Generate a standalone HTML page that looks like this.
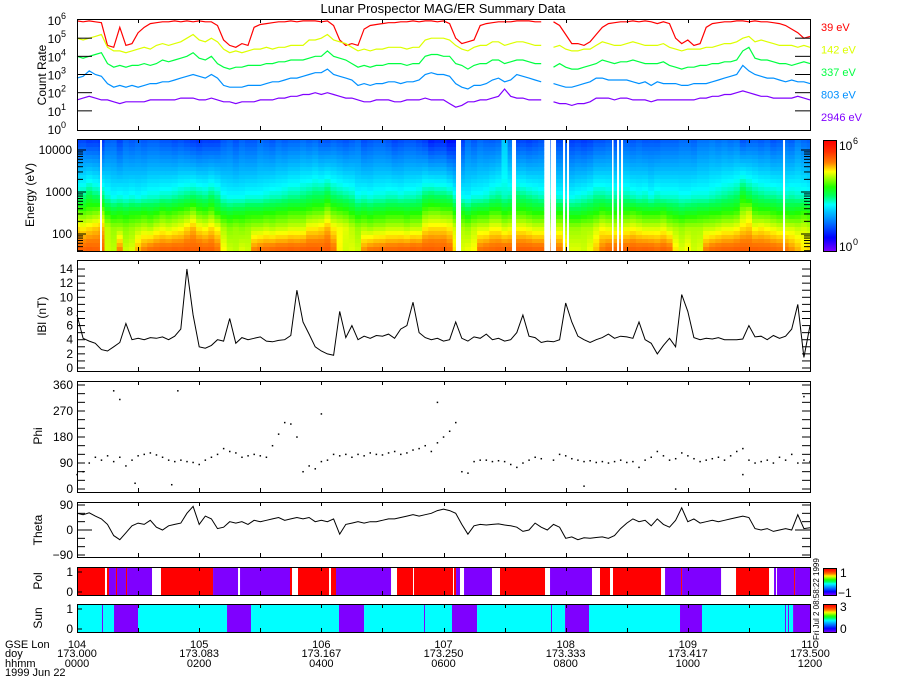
<!DOCTYPE html>
<html><head><meta charset="utf-8"><title>Lunar Prospector MAG/ER Summary Data</title>
<style>
html,body{margin:0;padding:0;background:#fff;}
svg{display:block;font-family:"Liberation Sans",sans-serif;}
</style></head>
<body>
<svg id="chart" xmlns="http://www.w3.org/2000/svg" width="900" height="700" viewBox="0 0 900 700">
<rect x="0" y="0" width="900" height="700" fill="#fff"/>
<text x="443" y="13" font-size="13" text-anchor="middle" fill="#000">Lunar Prospector MAG/ER Summary Data</text>
<g id="g"></g>
</svg>
<script>
// ---------- data (hours after 00:00, sampled every 0.1 h) ----------
const sampleStep = 0.1;
const energyLabels = ["39 eV","142 eV","337 eV","803 eV","2946 eV"];
const energyLogE = [1.59, 2.15, 2.53, 2.90, 3.47];
const rate39 = [5.95,5.9,5.95,5.9,5.85, 4.6,4.5,5.6,4.6,4.7, 5.3,5.6,5.8,5.85,5.9,5.9,5.95,5.9,5.95,5.9, 5.95,5.9,5.9,5.7,4.9,4.6,4.5,4.7,4.6,5.6, 5.75,5.8,5.85,5.9,5.9,5.95,5.9,5.95,5.95,5.95, 5.9,5.95,5.7,4.9,4.6,4.7,4.6,5.5,5.7,5.75, 5.8,5.85,5.85,5.9,5.9,5.95,5.9,5.95,5.95,5.9, 5.95,5.8,5.0,4.7,4.8,4.9,5.7,5.8,5.85,5.9, 5.9,5.9,5.95,5.95,5.95,5.9,5.9,null,5.9,5.7, 5.2,4.7,4.7,4.6,4.8,5.2,5.6,5.8,5.85,5.9, 5.9,5.95,5.9,5.95,5.9,5.8,5.9,5.8,5.0,4.7, 4.9,4.6,4.7,5.6,5.8,5.85,5.9,5.9,5.95,5.95, 5.9,5.95,5.9,5.9,5.85,5.8,5.7,5.5,5.3,5.0, 5.1];
const rate142 = [5.0,4.9,5.0,5.1,5.2, 4.5,4.3,4.3,4.2,4.3, 4.4,4.5,4.4,4.6,4.7,4.6,4.7,4.8,5.0,5.2, 4.9,4.8,5.0,4.8,4.4,4.2,4.3,4.2,4.3,4.4, 4.4,4.5,4.4,4.5,4.5,4.6,4.6,4.6,4.9,4.9, 5.0,5.2,4.9,4.8,4.7,4.5,4.3,4.4,4.3,4.4, 4.4,4.5,4.5,4.5,4.4,4.5,4.5,4.9,5.0,5.0, 5.0,4.9,4.6,4.4,4.3,4.5,4.6,4.6,4.8,4.8, 4.6,4.7,4.8,4.8,4.7,4.6,4.6,null,4.5,4.6, 4.4,4.3,4.3,4.4,4.4,4.6,4.8,4.7,4.6,4.6, 4.7,4.8,4.7,4.6,4.6,4.6,4.7,4.5,4.4,4.3, 4.4,4.4,4.4,4.5,4.5,4.6,4.7,4.7,4.8,5.0, 5.1,4.8,4.9,4.8,4.7,4.6,4.6,4.6,4.5,4.6, 4.5];
const rate337 = [4.0,3.9,4.0,4.1,4.2, 3.6,3.4,3.5,3.4,3.5, 3.5,3.6,3.5,3.6,3.8,3.7,3.8,3.9,4.0,4.2, 3.9,3.8,4.0,3.6,3.4,3.3,3.4,3.4,3.5,3.5, 3.5,3.6,3.6,3.7,3.7,3.8,3.8,3.8,3.9,4.0, 4.0,4.3,4.0,3.9,3.8,3.6,3.4,3.5,3.4,3.5, 3.5,3.6,3.6,3.6,3.5,3.6,3.6,4.0,4.1,4.1, 4.0,4.0,3.6,3.5,3.3,3.5,3.6,3.6,3.8,3.8, 3.6,3.7,3.8,3.8,3.7,3.6,3.6,null,3.4,3.6, 3.4,3.3,3.3,3.4,3.5,3.6,3.8,3.7,3.6,3.7, 3.7,3.8,3.7,3.6,3.6,3.6,3.7,3.5,3.4,3.3, 3.4,3.4,3.5,3.5,3.6,3.6,3.7,3.7,3.8,4.3, 4.5,3.9,3.8,3.8,3.7,3.6,3.6,3.5,3.6,3.7, 3.6];
const rate803 = [2.8,2.9,3.2,3.0,2.9, 2.5,2.3,2.4,2.3,2.4, 2.3,2.4,2.5,2.5,2.6,2.6,2.7,2.8,2.9,3.0, 2.9,2.8,3.0,2.8,2.4,2.3,2.3,2.3,2.4,2.4, 2.4,2.5,2.6,2.6,2.7,2.8,2.8,2.9,3.0,3.1, 3.1,3.3,3.0,2.9,2.8,2.7,2.4,2.5,2.4,2.5, 2.5,2.6,2.6,2.5,2.6,2.6,2.7,3.0,3.1,3.0, 3.0,2.9,2.5,2.3,2.2,2.4,2.4,2.5,2.7,2.8, 2.6,2.7,3.0,2.9,2.8,2.7,2.6,null,2.5,2.4, 2.3,2.3,2.4,2.5,2.6,2.8,2.8,2.7,2.7,2.7, 2.7,2.6,2.5,2.6,2.4,2.6,2.5,2.5,2.5,2.4, 2.4,2.5,2.5,2.5,2.6,2.7,2.8,2.9,3.0,3.5, 3.2,3.0,2.9,2.8,2.8,2.7,2.6,2.7,2.6,2.6, 2.5];
const rate2946 = [1.6,1.7,1.8,1.7,1.6, 1.6,1.5,1.4,1.5,1.5, 1.5,1.5,1.6,1.6,1.6,1.6,1.6,1.7,1.7,1.7, 1.6,1.6,1.7,1.6,1.5,1.5,1.4,1.5,1.5,1.5, 1.6,1.6,1.6,1.7,1.7,1.8,1.8,1.9,1.9,2.0, 1.9,2.0,1.9,1.8,1.7,1.7,1.6,1.5,1.5,1.6, 1.6,1.6,1.5,1.5,1.6,1.6,1.6,1.7,1.6,1.6, 1.6,1.4,1.2,1.3,1.5,1.5,1.6,1.6,1.7,1.8, 2.2,1.8,1.7,1.7,1.6,1.6,1.6,null,1.5,1.4, 1.4,1.3,1.4,1.4,1.5,1.7,1.7,1.7,1.6,1.7, 1.7,1.6,1.6,1.6,1.5,1.6,1.6,1.6,1.6,1.6, 1.6,1.6,1.7,1.7,1.8,1.8,1.9,1.9,2.0,2.1, 2.0,1.9,1.8,1.8,1.7,1.7,1.7,1.7,1.8,1.7, 1.6];
const specGapStart = [0.377, 6.205, 7.122, 7.76, 7.957, 8.022, 8.759, 8.841, 8.906, 11.559];
const specGapEnd   = [0.409, 6.287, 7.187, 7.842, 7.99, 8.055, 8.775, 8.874, 8.939, 11.591];
const bMag = [7.5,4.2,3.8,3.5,2.6,2.4,3.0,3.6,6.3,4.0, 4.2,4.0,4.3,4.2,4.4,4.0,4.5,5.5,14,7.5, 3.0,2.8,3.2,4.0,3.8,7.0,3.5,4.3,4.0,4.2, 4.4,3.8,3.7,3.9,4.0,4.6,11.0,6.5,4.8,3.0, 2.4,2.0,1.8,8.0,4.3,6.0,4.0,4.5,4.2,4.6, 4.5,4.8,4.2,5.5,6.0,9.3,5.0,4.3,4.0,4.2, 3.8,4.0,6.5,4.2,3.8,4.4,4.2,4.8,4.0,4.2, 3.8,4.0,5.0,7.5,4.5,4.3,3.6,3.8,3.7,4.0, 9.2,6.5,4.5,4.0,3.6,4.0,4.3,4.8,4.2,4.5, 4.4,4.2,6.5,4.0,3.5,2.0,3.2,4.2,3.0,10.4, 8.0,4.3,4.0,4.2,4.1,4.3,4.0,4.0,4.0,4.1, 6.0,4.4,4.5,4.0,4.6,4.2,4.5,5.5,9.0,1.5, 6.0];
const phiVals = [50,60,90,110,100,115,95,110,80,100, 115,120,125,118,110,100,95,100,95,92, 85,100,110,120,140,130,125,110,115,120, 115,110,150,190,230,225,180,60,80,70, 95,100,120,115,120,110,120,115,125,120, 118,125,130,120,125,135,140,150,130,160, 180,200,230,60,55,95,100,100,95,98, 95,85,75,90,100,110,105,null,100,120, 115,105,100,95,98,92,95,90,95,100, 92,95,75,100,110,130,115,100,105,125, 115,105,95,100,105,110,100,115,130,140, 100,90,95,100,90,110,100,120,90,100, 95];
const phiOutT = [0.6, 0.7, 0.95, 1.55, 1.65, 4.0, 5.9, 8.3, 9.8, 10.9, 11.9];
const phiOutV = [340, 310, 20, 15, 340, 260, 300, 10, 0, 50, 320];
const thetaVals = [60,55,62,50,40,20,-20,-35,-10,15, 25,20,35,10,0,15,20,25,60,85, 20,50,40,5,10,30,25,30,20,35, 30,35,40,45,35,40,45,40,45,30, 35,30,40,-15,20,25,30,25,30,30, 35,40,40,45,50,55,50,55,60,70, 75,70,60,20,-15,15,20,18,20,22, 18,15,10,-5,0,25,10,0,20,10, -30,-25,-35,-28,-30,-27,-25,-30,-20,5, 25,40,30,35,15,40,20,10,35,80, 30,40,25,30,35,30,35,40,45,50, 45,5,0,5,-5,0,5,0,55,5, 8];
const polStart = [0,0.491,0.524,0.638,0.655,0.802,0.819,1.375,2.227,2.669,3.487,3.618,4.158,4.24,5.239,5.517,6.172,6.205,6.336,6.925,7.744,8.562,8.775,9.627,9.889,9.905,10.789,11.411,11.46,11.739,11.755];
const polEnd   = [0.458,0.524,0.638,0.655,0.802,0.819,1.228,2.227,2.636,3.487,3.52,4.126,4.24,5.141,5.501,6.156,6.205,6.27,6.794,7.662,8.431,8.726,9.561,9.889,9.905,10.544,11.329,11.444,11.739,11.755,12];
const polVal   = [1,1,-1,1,-1,1,-1,1,-1,-1,1,1,1,-1,1,1,1,-1,-1,1,-1,1,1,-1,1,-1,1,-1,-1,1,-1];
const sunStart = [0,0.409,0.426,0.606,0.999,2.456,2.849,4.289,4.699,5.681,5.697,6.139,6.549,7.76,7.777,7.99,8.382,9.872,10.232,11.591,11.608,11.64,11.657,11.723];
const sunEnd   = [0.409,0.426,0.606,0.999,2.456,2.849,4.289,4.699,5.681,5.697,6.139,6.549,7.76,7.777,7.99,8.382,9.872,10.232,11.591,11.608,11.64,11.657,11.723,12];
const sunVal   = [1,0,1,0,1,0,1,0,1,0,1,0,1,0,1,0,1,0,1,0,1,0,1,0];
const xTickLon  = ["104","105","106","107","108","109","110"];
const xTickDoy  = ["173.000","173.083","173.167","173.250","173.333","173.417","173.500"];
const xTickHhmm = ["0000","0200","0400","0600","0800","1000","1200"];

// ---------- helpers ----------
const NS = "http://www.w3.org/2000/svg";
const G = document.getElementById("g");
function mk(tag, attrs, parent) {
  const e = document.createElementNS(NS, tag);
  for (const k in attrs) e.setAttribute(k, attrs[k]);
  (parent || G).appendChild(e);
  return e;
}
function txt(x, y, s, size, anchor, fill, parent) {
  const e = mk("text", {x: x, y: y, "font-size": size, "text-anchor": anchor || "start", fill: fill || "#000"}, parent);
  e.textContent = s;
  return e;
}
const X0 = 77, X1 = 810;
function xs(t) { return X0 + t / 12 * (X1 - X0); }
function tOf(i) { return i * sampleStep; }
const yCR = v => 20 + (6 - v) * 18.17;
const yE = l => 234 - (l - 2) * 42;
const yB = b => 368 - b * 7.07;
const yP = p => 489 - p * 0.2889;
const yT = th => 530 - th * 0.2778;

const panels = [
  {name: "count-rate-panel", top: 19, bot: 130},
  {name: "spectrogram-panel", top: 139, bot: 251},
  {name: "b-magnitude-panel", top: 260, bot: 371},
  {name: "phi-panel", top: 381, bot: 492},
  {name: "theta-panel", top: 502, bot: 557},
  {name: "polarity-panel", top: 567, bot: 595},
  {name: "sun-panel", top: 604, bot: 632}
];

function linePath(vals, yf) {
  let d = "", pen = false;
  vals.forEach((v, i) => {
    if (v === null) { pen = false; return; }
    d += (pen ? "L" : "M") + xs(tOf(i)).toFixed(1) + " " + yf(v).toFixed(1);
    pen = true;
  });
  return d;
}

// colormap
const cmap = [[0,[120,0,255]],[0.12,[0,0,255]],[0.25,[0,112,255]],[0.35,[0,192,255]],[0.42,[0,255,255]],[0.5,[0,255,96]],[0.58,[32,255,0]],[0.68,[192,255,0]],[0.72,[255,255,0]],[0.8,[255,128,0]],[0.9,[255,48,0]],[1,[255,0,0]]];
function color(c) {
  c = Math.max(0, Math.min(1, c));
  for (let k = 1; k < cmap.length; k++) {
    if (c <= cmap[k][0]) {
      const a = cmap[k-1], b = cmap[k], f = (c - a[0]) / (b[0] - a[0]);
      const r = a[1].map((v, j) => Math.round(v + (b[1][j] - v) * f));
      return "rgb(" + r.join(",") + ")";
    }
  }
  return "rgb(255,0,0)";
}

// ---------- panel 1: count rates ----------
const series = [rate39, rate142, rate337, rate803, rate2946];
const seriesColors = ["#ff0000", "#ddff00", "#00ff40", "#0090ff", "#8000ff"];
const seriesNames = ["rate-39ev-line","rate-142ev-line","rate-337ev-line","rate-803ev-line","rate-2946ev-line"];
series.forEach((s, k) => {
  const p = mk("path", {d: linePath(s, yCR), fill: "none", stroke: seriesColors[k], "stroke-width": 1.2});
  
  
});
energyLabels.forEach((l, k) => {
  const t = txt(821, 31 + k * 22.5, l, 11, "start", seriesColors[k]);
  
  
});
for (let d = 0; d <= 6; d++) {
  const y = yCR(d);
  if (d > 0 && d < 6) {
    mk("line", {x1: X0, x2: X0 + 15, y1: y, y2: y, stroke: "#000"});
    mk("line", {x1: X1, x2: X1 - 15, y1: y, y2: y, stroke: "#000"});
  }
  const t = txt(61, y + 5, "10", 12, "end");
  
  
  const sup = txt(61, y - 1, String(d), 9, "start");
  
  
}

// ---------- panel 2: spectrogram ----------
function interpRate(i, le) {
  const v = series.map(s => s[i]);
  if (v.some(a => a === null)) return null;
  let k = 0;
  if (le <= energyLogE[0]) k = 0;
  else if (le >= energyLogE[4]) k = 3;
  else { while (le > energyLogE[k+1]) k++; }
  const f = (le - energyLogE[k]) / (energyLogE[k+1] - energyLogE[k]);
  return v[k] + (v[k+1] - v[k]) * f;
}
const specG = mk("g", {});


const rowH = 4;
for (let i = 0; i < rate39.length; i++) {
  const xa = Math.max(X0, xs(tOf(i) - sampleStep / 2)), xb = Math.min(X1, xs(tOf(i) + sampleStep / 2));
  for (let y = 139; y < 251; y += rowH) {
    const le = 2 + (234 - (y + rowH / 2)) / 42;
    const v = interpRate(i, le);
    const c = v === null ? null : (v >= 2.6 ? 0.45 + (v - 2.6) * 0.12 : 0.45 + (v - 2.6) * 0.1);
    const r = mk("rect", {x: xa.toFixed(1), y: y, width: (xb - xa + 0.6).toFixed(1), height: Math.min(rowH, 251 - y) + 0.3, fill: c === null ? "#fff" : color(c)}, specG);
    
    
  }
}
specGapStart.forEach((s, k) => {
  const r = mk("rect", {x: xs(s), y: 139, width: Math.max(1.5, xs(specGapEnd[k]) - xs(s)), height: 112, fill: "#fff"});
  
  
});
[[100, "100"], [1000, "1000"], [10000, "10000"]].forEach(([e, l]) => {
  const y = yE(Math.log10(e));
  const t = txt(72, y + 4, l, 12, "end");
  
  
});
for (let dec = 1; dec <= 4; dec++) {
  for (let m = 1; m <= 9; m++) {
    const le = dec + Math.log10(m);
    if (le < 1.595 || le > 4.262) continue;
    const y = yE(le), len = m === 1 ? 9 : 6;
    mk("line", {x1: X0, x2: X0 + len, y1: y, y2: y, stroke: "#000"});
    mk("line", {x1: X1, x2: X1 - len, y1: y, y2: y, stroke: "#000"});
  }
}
// colorbars
function colorbar(name, top, bot) {
  const g = mk("g", {});
  
  
  const h = bot - top;
  for (let y = 0; y < h; y++) {
    mk("rect", {x: 823, y: bot - y - 1, width: 13, height: 1.3, fill: color(y / (h - 1))}, g);
  }
  mk("rect", {x: 823.5, y: top + 0.5, width: 13, height: h, fill: "none", stroke: "#000"}, g);
}
colorbar("spectrogram-colorbar", 140, 251);
const cb1 = txt(839, 150, "10", 12, "start");  
const cb1s = txt(853, 144, "6", 9, "start");  
const cb0 = txt(839, 251, "10", 12, "start");  
const cb0s = txt(853, 245, "0", 9, "start");  

// ---------- panel 3: |B| ----------
const bPath = mk("path", {d: linePath(bMag, yB), fill: "none", stroke: "#000", "stroke-width": 1});


for (let b = 0; b <= 14; b++) {
  const y = yB(b);
  mk("line", {x1: X0, x2: X0 + 8, y1: y, y2: y, stroke: "#000"});
  mk("line", {x1: X1, x2: X1 - 8, y1: y, y2: y, stroke: "#000"});
  if (b % 2 === 0) {
    const t = txt(73, y + 4, String(b), 12, "end");
    
    
  }
}

// ---------- panel 4: Phi ----------
const phiG = mk("g", {});


phiVals.forEach((p, i) => {
  if (p === null) return;
  const r = mk("rect", {x: xs(tOf(i)) - 0.7, y: yP(p) - 0.7, width: 1.5, height: 1.5, fill: "#000"}, phiG);
  
  
});
phiOutT.forEach((t, k) => {
  const r = mk("rect", {x: xs(t) - 0.7, y: yP(phiOutV[k]) - 0.7, width: 1.5, height: 1.5, fill: "#000"}, phiG);
  
  
});
for (let p = 0; p <= 360; p += 30) {
  const y = yP(p);
  mk("line", {x1: X0, x2: X0 + 8, y1: y, y2: y, stroke: "#000"});
  mk("line", {x1: X1, x2: X1 - 8, y1: y, y2: y, stroke: "#000"});
  if (p % 90 === 0) {
    const t = txt(73, y + 4, String(p), 12, "end");
    
    
  }
}

// ---------- panel 5: Theta ----------
const thPath = mk("path", {d: linePath(thetaVals, yT), fill: "none", stroke: "#000", "stroke-width": 1});


for (let th = -90; th <= 90; th += 30) {
  const y = yT(th), len = th === 0 ? 15 : 8;
  mk("line", {x1: X0, x2: X0 + len, y1: y, y2: y, stroke: "#000"});
  mk("line", {x1: X1, x2: X1 - len, y1: y, y2: y, stroke: "#000"});
  if (th % 90 === 0) {
    const t = txt(73, y + 4, th < 0 ? "\u221290" : String(th), 12, "end");
    
    
  }
}

// ---------- panel 6/7: Pol & Sun ----------
polStart.forEach((s, k) => {
  const r = mk("rect", {x: xs(s), y: 568, width: Math.max(1, xs(polEnd[k]) - xs(s)), height: 27, fill: polVal[k] > 0 ? "#ff0000" : "#7f00ff"});
  
  
});
sunStart.forEach((s, k) => {
  const r = mk("rect", {x: xs(s), y: 605, width: Math.max(1, xs(sunEnd[k]) - xs(s)), height: 27, fill: sunVal[k] > 0 ? "#00ffff" : "#7f00ff"});
  
  
});
[[567, 595, "pol"], [604, 632, "sun"]].forEach(([top, bot, n]) => {
  const t1 = txt(73, top + 9, "1", 12, "end");
  
  
  const t0 = txt(73, bot + 1, "0", 12, "end");
  
  
  mk("line", {x1: X0, x2: X0 + 5, y1: top + 5, y2: top + 5, stroke: "#000"});
  mk("line", {x1: X0, x2: X0 + 5, y1: bot - 3, y2: bot - 3, stroke: "#000"});
});
colorbar("pol-colorbar", 568, 595);
colorbar("sun-colorbar", 604, 632);
[[840, 577, "1"], [838, 597, "\u22121"], [840, 611, "3"], [840, 633, "0"]].forEach(([x, y, s]) => {
  const t = txt(x, y, s, 12, "start");
  
  
});
const stamp = txt(0, 0, "Fri Jul  2 08:58:22 1999", 8, "start");
stamp.setAttribute("transform", "translate(819,640) rotate(-90)");



// ---------- frames & x ticks ----------
panels.forEach(p => {
  const r = mk("rect", {x: X0 + 0.5, y: p.top + 0.5, width: X1 - X0, height: p.bot - p.top, fill: "none", stroke: "#000"});
  
  
  for (let h = 0; h <= 12; h++) {
    const x = Math.round(xs(h)) + 0.5;
    mk("line", {x1: x, x2: x, y1: p.top, y2: p.top + 4, stroke: "#000"});
    mk("line", {x1: x, x2: x, y1: p.bot, y2: p.bot - 4, stroke: "#000"});
  }
});

// y-axis titles
[["Count Rate", 46, 75, "count-rate-axis-title"], ["Energy (eV)", 34, 195, "energy-axis-title"], ["lBl (nT)", 46, 316, "b-axis-title"],
 ["Phi", 42, 436, "phi-axis-title"], ["Theta", 42, 530, "theta-axis-title"], ["Pol", 42, 581, "pol-axis-title"], ["Sun", 42, 618, "sun-axis-title"]].forEach(([s, x, y, n]) => {
  const t = txt(0, 0, s, 12, "middle");
  t.setAttribute("transform", "translate(" + x + "," + y + ") rotate(-90)");
  
  
});

// x labels
[["GSE Lon", 648], ["doy", 657], ["hhmm", 667], ["1999 Jun 22", 676]].forEach(([s, y]) => {
  const t = txt(5, y, s, 11, "start");
  
  
});
xTickLon.forEach((s, k) => {
  const x = xs(k * 2);
  const a = txt(x, 648, s, 11, "middle");
  
  
  const b = txt(x, 657, xTickDoy[k], 11, "middle");
  
  
  const c = txt(x, 667, xTickHhmm[k], 11, "middle");
  
  
});
</script>
</body></html>
